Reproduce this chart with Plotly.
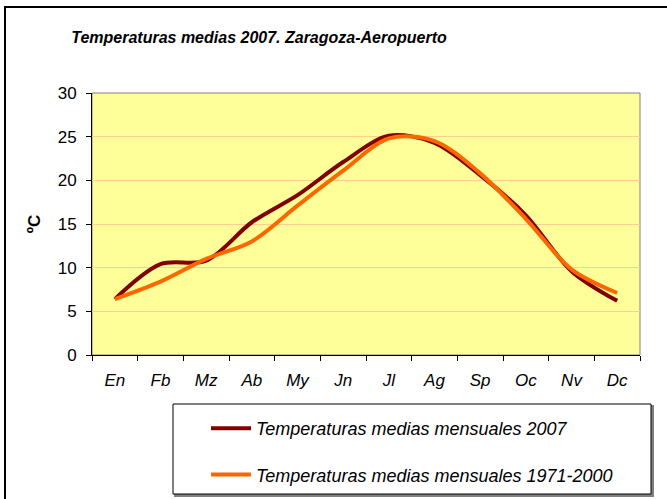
import plotly.graph_objects as go

months = ["En", "Fb", "Mz", "Ab", "My", "Jn", "Jl", "Ag", "Sp", "Oc", "Nv", "Dc"]
temp_2007 = [6.4, 10.4, 10.8, 15.2, 18.3, 22.1, 25.1, 24.3, 20.6, 16.0, 9.6, 6.2]
temp_normal = [6.4, 8.4, 11.0, 13.0, 17.1, 21.1, 24.8, 24.5, 20.8, 15.6, 9.8, 7.1]
y_ticks = [0, 5, 10, 15, 20, 25, 30]
name_2007 = "Temperaturas medias mensuales 2007"
name_normal = "Temperaturas medias mensuales 1971-2000"
title_text = "Temperaturas medias 2007. Zaragoza-Aeropuerto"

W, H = 667, 499
L, R, T, B = 92, 640, 93, 355
FONT = "Liberation Sans, Arial, sans-serif"

def px_x(p):
    return (p - L) / (R - L)

def px_y(p):
    return (B - p) / (B - T)

fig = go.Figure()
fig.add_trace(go.Scatter(
    x=months, y=temp_2007, name=name_2007, mode="lines",
    line=dict(color="#800000", width=4, shape="spline", smoothing=0.9),
    legendgroup="a",
))
fig.add_trace(go.Scatter(
    x=months, y=temp_normal, name=name_normal, mode="lines",
    line=dict(color="#FF6600", width=4, shape="spline", smoothing=0.9),
    legendgroup="b",
))

shapes = [
    # outer chart frame
    dict(type="rect", xref="paper", yref="paper",
         x0=px_x(5), x1=px_x(700), y0=px_y(540), y1=px_y(7),
         line=dict(color="black", width=2), layer="below"),
    # plot area border (top/right grey)
    dict(type="rect", xref="paper", yref="paper", x0=0, x1=1, y0=0, y1=1,
         line=dict(color="#808080", width=1), layer="below"),
    # legend shadow
    dict(type="rect", xref="paper", yref="paper",
         x0=px_x(175), x1=px_x(653), y0=px_y(496), y1=px_y(406),
         line=dict(color="#808080", width=2), fillcolor="#808080", layer="above"),
    # legend box
    dict(type="rect", xref="paper", yref="paper",
         x0=px_x(173), x1=px_x(651), y0=px_y(494), y1=px_y(404),
         line=dict(color="black", width=1), fillcolor="white", layer="above"),
]

fig.update_layout(
    width=W, height=H,
    margin=dict(l=L, r=W - R, t=T, b=H - B, autoexpand=False),
    paper_bgcolor="white",
    plot_bgcolor="#FFFF99",
    font=dict(family=FONT, color="black", size=17),
    title=dict(text=title_text, xref="container", yref="container",
               x=259 / W, xanchor="center", y=1 - 37 / H, yanchor="middle",
               font=dict(family=FONT, size=16, weight="bold", style="italic", color="black")),
    showlegend=True,
    legend=dict(x=px_x(206), y=px_y(410), xanchor="left", yanchor="top",
                bgcolor="rgba(0,0,0,0)", borderwidth=0,
                font=dict(family=FONT, size=18, style="italic", color="black"),
                tracegroupgap=20, itemwidth=40, traceorder="grouped"),
    shapes=shapes,
    xaxis=dict(type="category", tickson="boundaries", ticks="outside", ticklen=5,
               tickcolor="black", showline=True, linecolor="black", linewidth=1,
               showgrid=False, tickfont=dict(family=FONT, size=17, style="italic"),
               ticklabelstandoff=10, range=[-0.5, 11.5], automargin=False),
    yaxis=dict(range=[0, 30], tickvals=y_ticks, ticks="outside", ticklen=5,
               tickcolor="black", showline=True, linecolor="black", linewidth=1,
               showgrid=True, gridcolor="#FFCC99", gridwidth=1, zeroline=False,
               tickfont=dict(family=FONT, size=17), ticklabelstandoff=6,
               automargin=False,
               title=dict(text="ºC", standoff=12,
                          font=dict(family=FONT, size=17, weight="bold"))),
)

fig.write_html("out.html",
               config={"displayModeBar": False},
               post_script="document.body.style.margin='0';document.body.style.overflow='hidden';")
